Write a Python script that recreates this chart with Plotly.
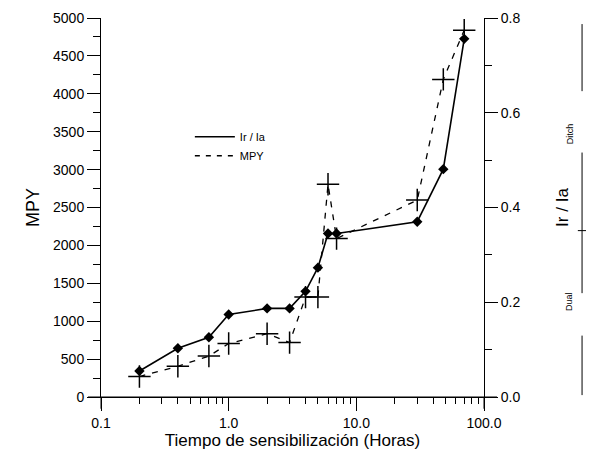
import plotly.graph_objects as go

tiempo = [0.2, 0.4, 0.7, 1.0, 2.0, 3.0, 4.0, 5.0, 6.0, 7.0, 30.0, 48.0, 70.0]
ir_ia = [0.055, 0.103, 0.126, 0.174, 0.187, 0.187, 0.223, 0.273, 0.345, 0.345, 0.37, 0.481, 0.756]
mpy = [270, 405, 540, 705, 835, 718, 1318, 1318, 2807, 2090, 2598, 4190, 4840]

x_ticks = [0.1, 1.0, 10.0, 100.0]
x_ticktext = ['0.1', '1.0', '10.0', '100.0']
x_minor = [m * d for d in (0.1, 1, 10) for m in range(2, 10)]

font = 'Liberation Sans, Arial, sans-serif'

fig = go.Figure()

fig.add_trace(go.Scatter(
    x=tiempo, y=mpy, mode='lines+markers', showlegend=False,
    line=dict(color='black', width=1.3, dash='6px,7px'),
    marker=dict(symbol='cross-thin', size=16, line=dict(color='black', width=1.5))
))

fig.add_trace(go.Scatter(
    x=tiempo, y=ir_ia, yaxis='y2', mode='lines+markers', showlegend=False,
    line=dict(color='black', width=1.6),
    marker=dict(symbol='diamond', size=8, color='black')
))

# legend entries (line only)
fig.add_trace(go.Scatter(x=[None], y=[None], mode='lines', name='Ir / Ia',
                         line=dict(color='black', width=1.6)))
fig.add_trace(go.Scatter(x=[None], y=[None], mode='lines', name='MPY',
                         line=dict(color='black', width=1.3, dash='5px,6px')))

axis_common = dict(showgrid=False, zeroline=False, showline=True, linecolor='black',
                   linewidth=1, ticks='outside', tickcolor='black', tickwidth=1,
                   ticklabeloverflow='allow', automargin=False,
                   tickfont=dict(size=14, color='black', family=font))

fig.update_layout(
    width=594, height=460,
    margin=dict(l=93, r=118, t=10, b=71),
    paper_bgcolor='white', plot_bgcolor='white',
    font=dict(family=font, color='black'),
    xaxis=dict(type='log', range=[-1, 2], tickvals=x_ticks, ticktext=x_ticktext,
               ticklen=13,
               minor=dict(tickvals=x_minor, ticks='outside', ticklen=6, tickcolor='black'),
               title=dict(text='Tiempo de sensibilización (Horas)', font=dict(size=17), standoff=0),
               **axis_common),
    yaxis=dict(range=[0, 5000], dtick=500, ticklen=13,
               minor=dict(dtick=250, ticks='outside', ticklen=7, tickcolor='black'),
               title=dict(text='MPY', font=dict(size=18), standoff=8),
               **axis_common),
    yaxis2=dict(range=[0, 0.8], dtick=0.2, tickformat='.1f', overlaying='y', side='right',
                ticklen=13,
                minor=dict(dtick=0.1, ticks='outside', ticklen=7, tickcolor='black'),
                title=dict(text='Ir / Ia', font=dict(size=17), standoff=36),
                **axis_common),
    legend=dict(x=0.232, y=0.725, xanchor='left', yanchor='top', bgcolor='rgba(0,0,0,0)',
                font=dict(size=11, family=font), itemwidth=40, tracegroupgap=0),
)

# axis lines extending past the crossing like the original
fig.add_shape(type='line', xref='paper', yref='paper', x0=-0.034, x1=1.034, y0=0, y1=0,
              line=dict(color='black', width=1))
fig.add_shape(type='line', xref='paper', yref='paper', x0=0, x1=0, y0=-0.031, y1=0,
              line=dict(color='black', width=1))
fig.add_shape(type='line', xref='paper', yref='paper', x0=1, x1=1, y0=-0.031, y1=0,
              line=dict(color='black', width=1))

# scan margin remnants at right edge
for y0, y1 in [(0.984, 0.807), (0.645, 0.274), (0.162, 0.005)]:
    fig.add_shape(type='line', xref='paper', yref='paper', x0=1.256, x1=1.256, y0=y0, y1=y1,
                  line=dict(color='black', width=1))
fig.add_shape(type='line', xref='paper', yref='paper', x0=1.245, x1=1.27, y0=0.439, y1=0.439,
              line=dict(color='black', width=1))
fig.add_annotation(text='Ditch', xref='paper', yref='paper', x=1.242, y=0.728, textangle=-90,
                   showarrow=False, font=dict(size=9, color='black'))
fig.add_annotation(text='Dual', xref='paper', yref='paper', x=1.242, y=0.222, textangle=-90,
                   showarrow=False, font=dict(size=9, color='black'))

fig.write_html('out.html')
